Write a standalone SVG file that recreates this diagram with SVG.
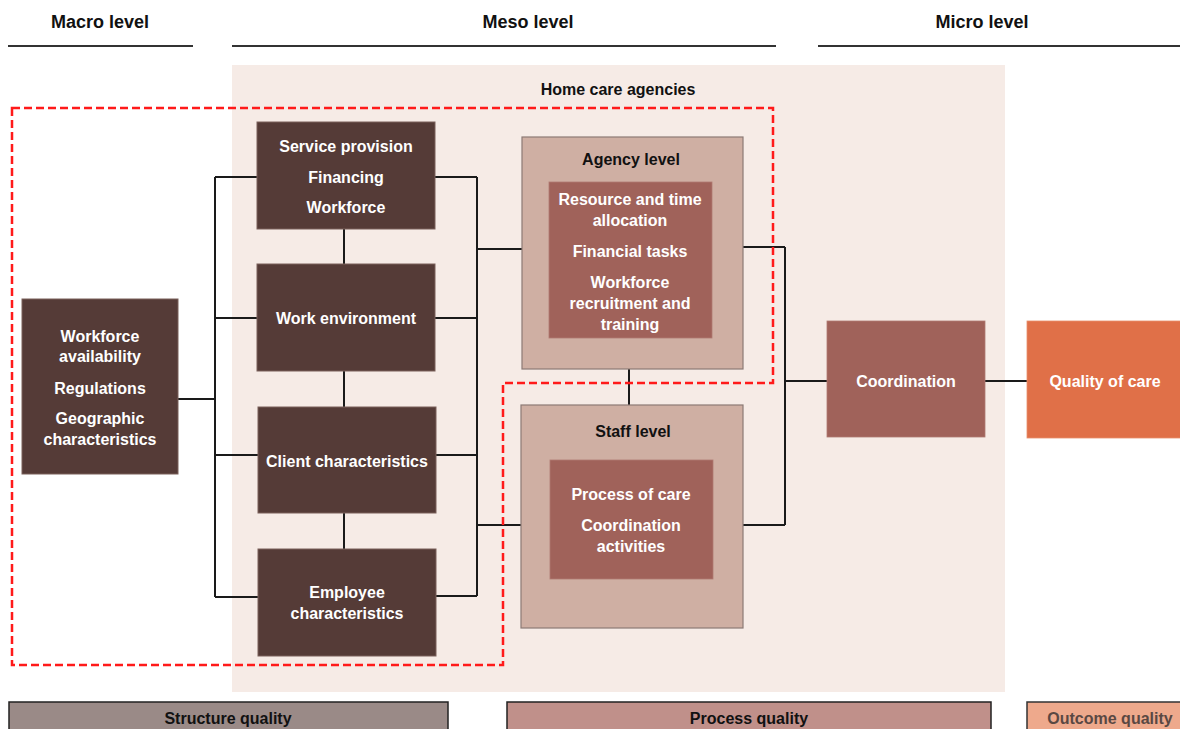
<svg xmlns="http://www.w3.org/2000/svg" width="1180" height="729" viewBox="0 0 1180 729">
<style>
text{font-family:"Liberation Sans",Arial,sans-serif;font-weight:bold;text-anchor:middle}
.hdr{font-size:18px;fill:#111}
.t{font-size:16px;fill:#fff}
.tb{font-size:16px;fill:#111}
.dark{fill:#553b37;stroke:#7a605b;stroke-width:1}
.outer{fill:#cfafa3;stroke:#8c7a75;stroke-width:1.2}
.inner{fill:#a0625a;stroke:#b07a72;stroke-width:0.8}
.conn{fill:none;stroke:#1a1a1a;stroke-width:2}
.rule{stroke:#333;stroke-width:2}
</style>
<rect width="1180" height="729" fill="#fff"/>
<g id="headers">
<text class="hdr" x="100" y="28">Macro level</text>
<text class="hdr" x="528" y="28">Meso level</text>
<text class="hdr" x="982" y="28">Micro level</text>
<line class="rule" x1="8" y1="46" x2="193" y2="46"/>
<line class="rule" x1="232" y1="46" x2="776" y2="46"/>
<line class="rule" x1="818" y1="46" x2="1180" y2="46"/>
</g>
<g id="home-care-agencies">
<rect x="232" y="65" width="773" height="627" fill="#f6ebe6"/>
<text class="tb" x="618" y="95">Home care agencies</text>
</g>
<g id="connectors">
<path class="conn" d="M178 399H215M215 177V597M215 177H257M215 318H257M215 455H258M215 597H258"/>
<path class="conn" d="M344 229V264M344 371V407M344 513V549"/>
<path class="conn" d="M435 177H477M435 318H477M436 455H477M436 596H477M477 177V596M477 249H522M477 525H521"/>
<path class="conn" d="M629 369V405"/>
<path class="conn" d="M743 247H785M743 525H785M785 247V525M785 381H827"/>
<path class="conn" d="M985 381H1027"/>
</g>
<g id="macro">
<rect class="dark" x="22" y="299" width="156" height="175"/>
<text class="t" x="100" y="342">Workforce</text>
<text class="t" x="100" y="362">availability</text>
<text class="t" x="100" y="394">Regulations</text>
<text class="t" x="100" y="424">Geographic</text>
<text class="t" x="100" y="445">characteristics</text>
</g>
<g id="service-provision">
<rect class="dark" x="257" y="122" width="178" height="107"/>
<text class="t" x="346" y="152">Service provision</text>
<text class="t" x="346" y="183">Financing</text>
<text class="t" x="346" y="213">Workforce</text>
</g>
<g id="work-environment">
<rect class="dark" x="257" y="264" width="178" height="107"/>
<text class="t" x="346" y="324">Work environment</text>
</g>
<g id="client-characteristics">
<rect class="dark" x="258" y="407" width="178" height="106"/>
<text class="t" x="347" y="467">Client characteristics</text>
</g>
<g id="employee-characteristics">
<rect class="dark" x="258" y="549" width="178" height="107"/>
<text class="t" x="347" y="598">Employee</text>
<text class="t" x="347" y="619">characteristics</text>
</g>
<g id="agency-level">
<rect class="outer" x="522" y="137" width="221" height="232"/>
<text class="tb" x="631" y="165">Agency level</text>
<rect class="inner" x="549" y="182" width="163" height="156"/>
<text class="t" x="630" y="205">Resource and time</text>
<text class="t" x="630" y="226">allocation</text>
<text class="t" x="630" y="257">Financial tasks</text>
<text class="t" x="630" y="288">Workforce</text>
<text class="t" x="630" y="309">recruitment and</text>
<text class="t" x="630" y="330">training</text>
</g>
<g id="staff-level">
<rect class="outer" x="521" y="405" width="222" height="223"/>
<text class="tb" x="633" y="437">Staff level</text>
<rect class="inner" x="550" y="460" width="163" height="119"/>
<text class="t" x="631" y="500">Process of care</text>
<text class="t" x="631" y="531">Coordination</text>
<text class="t" x="631" y="552">activities</text>
</g>
<g id="coordination">
<rect class="inner" x="827" y="321" width="158" height="116"/>
<text class="t" x="906" y="387">Coordination</text>
</g>
<g id="quality-of-care">
<rect x="1027" y="321" width="160" height="117" fill="#e07048" stroke="#e8906c" stroke-width="0.8"/>
<text class="t" x="1105" y="387">Quality of care</text>
</g>
<g id="boundary">
<path d="M12 108H773V383H503V665H12Z" fill="none" stroke="#ff1a1a" stroke-width="2.5" stroke-dasharray="8 4"/>
</g>
<g id="structure-quality">
<rect x="9" y="702" width="439" height="34" fill="#9a8a87" stroke="#222" stroke-width="1.5"/>
<text class="tb" x="228" y="724">Structure quality</text>
</g>
<g id="process-quality">
<rect x="507" y="702" width="484" height="34" fill="#c0908a" stroke="#222" stroke-width="1.5"/>
<text class="tb" x="749" y="724">Process quality</text>
</g>
<g id="outcome-quality">
<rect x="1027" y="702" width="170" height="34" fill="#eea98c" stroke="#333" stroke-width="1.5"/>
<text class="tb" x="1110" y="724" fill="#5a4843" style="fill:#5a4843">Outcome quality</text>
</g>
</svg>
